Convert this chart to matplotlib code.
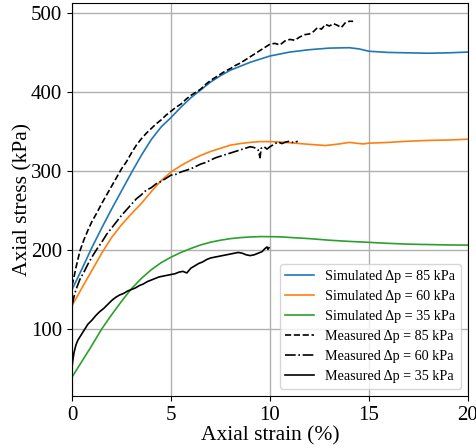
import matplotlib
matplotlib.use("Agg")
import matplotlib.pyplot as plt

plt.rcParams['font.family'] = ['Liberation Serif', 'DejaVu Serif']

# Simulated curves
sim_strain_85 = [0, 0.5, 1.0, 1.5, 2.0, 2.5, 3.0, 3.5, 4.0, 4.5, 5.0, 5.5, 6.0, 6.5, 7.0, 7.5, 8.0,
                 8.5, 9.0, 9.5, 10, 11, 12, 13, 14, 14.5, 15, 16, 17, 18, 19, 20]
sim_stress_85 = [150, 176, 203, 228, 252, 275, 298, 320, 340, 356, 368, 381, 393, 403, 413, 421, 428,
                 433, 438, 442, 446, 451, 454, 456, 456.5, 455, 452, 450.5, 450, 449.5, 450, 451]

sim_strain_60 = [0, 0.5, 1.0, 1.5, 2.0, 2.5, 3.0, 3.5, 4.0, 4.5, 5.0, 5.5, 6.0, 6.5, 7.0, 7.5, 8.0,
                 8.5, 9.0, 9.5, 10, 10.5, 11, 12, 12.8, 13.5, 14, 14.7, 15, 16, 17, 18, 19, 20]
sim_stress_60 = [129.5, 152, 174, 196, 216, 232, 246, 259, 274, 288, 299, 307, 314, 320, 325, 329, 333,
                 335, 336.5, 337.5, 337.5, 337, 336, 334, 332.5, 334.5, 336.5, 334.5, 335.5, 336.5, 338, 339, 339.5, 340.5]

sim_strain_35 = [0, 0.5, 1.0, 1.5, 2.0, 2.5, 3.0, 3.5, 4.0, 4.5, 5.0, 5.5, 6.0, 6.5, 7.0, 7.5, 8.0,
                 8.5, 9.0, 9.5, 10, 10.5, 11, 12, 13, 14, 15, 16, 17, 18, 19, 20]
sim_stress_35 = [39, 59, 79, 100, 118, 135, 151, 164, 175, 184, 191, 197, 202, 206.5, 210, 212.5, 214.5,
                 215.8, 216.6, 217.1, 217, 216.8, 216, 214.5, 212.5, 211, 209.8, 208.5, 207.5, 207, 206.5, 206.3]

# Measured curves
mea_strain_85 = [0, 0.1, 0.2, 0.4, 0.6, 0.8, 1.0, 1.25, 1.5, 1.75, 2.0, 2.25, 2.5, 2.75, 3.0, 3.25, 3.5,
                 3.75, 4.0, 4.25, 4.5, 4.75, 5.0, 5.25, 5.5, 5.75, 6.0, 6.25, 6.5, 6.75, 7.0, 7.25, 7.5,
                 7.75, 8.0, 8.25, 8.5, 8.75, 9.0, 9.25, 9.5, 9.75, 10, 10.25, 10.5, 10.75, 11, 11.25, 11.5,
                 11.75, 12, 12.2, 12.4, 12.6, 12.8, 13.0, 13.2, 13.4, 13.6, 13.8, 14.0, 14.2]
mea_stress_85 = [155, 166, 178, 199, 213, 225, 236, 247, 259, 270, 281, 292, 303, 312, 323, 333, 341,
                 348, 354, 360, 365, 371, 376, 381, 385, 391, 396, 400, 404, 410, 415, 419, 423,
                 427, 430, 434, 437, 441, 445, 449, 453, 457, 461, 462, 460, 465, 467, 466, 470,
                 473, 474, 477, 482, 480, 486, 484, 487, 485, 482, 488, 490, 490]

mea_strain_60 = [0, 0.1, 0.2, 0.4, 0.6, 0.8, 1.0, 1.25, 1.5, 1.75, 2.0, 2.25, 2.5, 2.75, 3.0, 3.25, 3.5,
                 3.75, 4.0, 4.25, 4.5, 4.75, 5.0, 5.25, 5.5, 5.75, 6.0, 6.25, 6.5, 6.75, 7.0, 7.25, 7.5,
                 7.75, 8.0, 8.25, 8.5, 8.75, 9.0, 9.2, 9.4, 9.5, 9.55, 9.7, 9.85, 10.0, 10.2, 10.4, 10.6,
                 10.8, 11.0, 11.2, 11.4]
mea_stress_60 = [130, 141, 150, 163, 172, 182, 191, 201, 210, 220, 228, 236, 244, 251, 258, 265, 270,
                 276, 279, 284, 287, 291, 295, 296, 299, 301, 303, 306, 309, 311, 314, 317, 319,
                 321, 323, 325, 327, 329, 331, 330, 327, 317, 329, 331, 328, 331, 334, 337, 335,
                 337, 338, 336, 338]

mea_strain_35 = [0, 0.05, 0.1, 0.2, 0.3, 0.4, 0.5, 0.6, 0.8, 1.0, 1.2, 1.4, 1.6, 1.8, 2.0, 2.2, 2.4,
                 2.6, 2.8, 3.0, 3.2, 3.4, 3.6, 3.8, 4.0, 4.2, 4.4, 4.6, 4.8, 5.0, 5.2, 5.4, 5.6, 5.8,
                 6.0, 6.2, 6.4, 6.6, 6.8, 7.0, 7.2, 7.4, 7.6, 7.8, 8.0, 8.2, 8.4, 8.6, 8.8, 9.0, 9.2,
                 9.4, 9.6, 9.75, 9.85, 9.9, 9.95]
mea_stress_35 = [52, 62, 70, 80, 86, 90, 94, 98, 106, 111, 117, 122, 126, 131, 136, 140, 143,
                 145, 148, 150, 152, 155, 157, 160, 162, 164, 166, 167, 168, 169, 170, 172, 173, 171,
                 177, 180, 183, 185, 188, 190, 191, 192, 193, 194, 195, 196, 197, 196, 194, 193, 194,
                 196, 198, 202, 204, 201, 203]

fig = plt.figure(figsize=(4.77, 4.48), dpi=100)
ax = fig.add_axes([0.151, 0.116, 0.830, 0.877])

ax.plot(sim_strain_85, sim_stress_85, color='#1f77b4', lw=1.2, label='Simulated Δp = 85 kPa')
ax.plot(sim_strain_60, sim_stress_60, color='#ff7f0e', lw=1.2, label='Simulated Δp = 60 kPa')
ax.plot(sim_strain_35, sim_stress_35, color='#2ca02c', lw=1.2, label='Simulated Δp = 35 kPa')
ax.plot(mea_strain_85, mea_stress_85, color='black', lw=1.2, ls='--', label='Measured Δp = 85 kPa')
ax.plot(mea_strain_60, mea_stress_60, color='black', lw=1.2, ls='-.', label='Measured Δp = 60 kPa')
ax.plot(mea_strain_35, mea_stress_35, color='black', lw=1.2, ls='-', label='Measured Δp = 35 kPa')

ax.set_xlim(0, 20)
ax.set_ylim(15, 513)
ax.set_xticks([0, 5, 10, 15, 20])
ax.set_yticks([100, 200, 300, 400, 500])
ax.grid(True, color='#b0b0b0', lw=1)
ax.tick_params(labelsize=15)
ax.set_xlabel('Axial strain (%)', fontsize=15.5, labelpad=1)
ax.set_ylabel('Axial stress (kPa)', fontsize=15.5, labelpad=-1)
ax.legend(loc='lower right', fontsize=10.2)

fig.savefig('out.png', dpi=100)
